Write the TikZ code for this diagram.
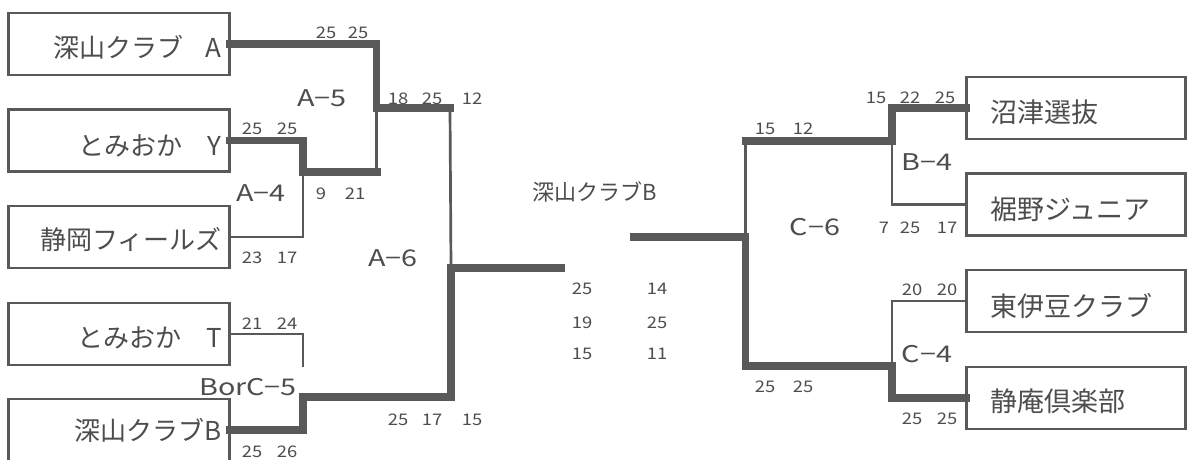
\documentclass[tikz,border=0pt]{standalone}
\usepackage{fontspec}
\setmainfont{Noto Sans CJK JP}
\definecolor{lc}{HTML}{595959}
\definecolor{tc}{HTML}{4d4d4d}
\newcommand{\wideA}[1]{\scalebox{1.25}[1]{#1}}
\newcommand{\wideS}[1]{\scalebox{1.15}[1]{#1}}
\begin{document}
\begin{tikzpicture}[x=1pt,y=-1pt,
  teambox/.style={draw=lc, line width=2.6pt, minimum width=221pt, minimum height=62pt, inner sep=0pt, outer sep=0pt},
  thinl/.style={draw=lc, line width=2.7pt},
  thickl/.style={draw=lc, line width=7.8pt, line cap=rect, line join=miter},
  lname/.style={text=tc, anchor=base east, inner sep=0pt, font=\fontsize{26}{30}\selectfont},
  rname/.style={text=tc, anchor=base west, inner sep=0pt, font=\fontsize{27}{31}\selectfont},
  cname/.style={text=tc, anchor=base, inner sep=0pt, font=\fontsize{22}{26}\selectfont},
  score/.style={text=tc, anchor=base, inner sep=0pt, font=\fontsize{16}{18}\selectfont},
  mlabel/.style={text=tc, anchor=base, inner sep=0pt, font=\fontsize{23}{27}\selectfont}]
\clip (0,0) rectangle (1189,459);
\fill[white] (0,0) rectangle (1189,459);

% team boxes
\node[teambox] (L1) at (119,44) {};
\node[teambox] (L2) at (119,140.5) {};
\node[teambox] (L3) at (119,237) {};
\node[teambox] (L4) at (119,334) {};
\node[teambox] (L5) at (119,430) {};
\node[teambox, minimum width=219pt] (R1) at (1076,108) {};
\node[teambox, minimum width=219pt] (R2) at (1076,204.5) {};
\node[teambox, minimum width=219pt] (R3) at (1076,301) {};
\node[teambox, minimum width=219pt] (R4) at (1076,398) {};

% names
\node[lname] (n1) at (222,57) {深山クラブ\hspace{22pt}A};
\node[lname] (n2) at (222,155.5) {とみおか\hspace{25pt}Y};
\node[lname] (n3) at (222,249.5) {静岡フィールズ};
\node[lname] (n4) at (222,347.5) {とみおか\hspace{25pt}T};
\node[lname] (n5) at (222,440.5) {深山クラブB};
\node[rname] (m1) at (990,122) {沼津選抜};
\node[rname] (m2) at (990,219) {裾野ジュニア};
\node[rname] (m3) at (990,316) {東伊豆クラブ};
\node[rname] (m4) at (990,411) {静庵倶楽部};
\node[cname] (champ) at (595,200) {深山クラブB};

% junction coordinates
\coordinate (a5) at (376.5,108);
\coordinate (a5b) at (376.5,172);
\coordinate (a4) at (303,172);
\coordinate (a4e) at (377,172);
\coordinate (a5e) at (450,108);
\coordinate (a6) at (451,268);
\coordinate (fL) at (561,268);
\coordinate (b5) at (303,397);
\coordinate (b5r) at (451,397);
\coordinate (b5t) at (303,367);
\coordinate (b4) at (892,141);
\coordinate (c6t) at (745.5,141);
\coordinate (c6) at (745.5,237);
\coordinate (c4) at (892,366);
\coordinate (c6b) at (745.5,366);
\coordinate (fR) at (634,237);

% thin connectors (losers)
\draw[thinl] (a5) -- (a5b);
\draw[thinl] (L3.east) -| (a4);
\draw[thinl] (a5e) -- (a6);
\draw[thinl] (L4.east) -| (b5t);
\draw[thinl] (R2.west) -| (b4);
\draw[thinl] (R3.west) -| (c4);
\draw[thinl] (c6t) -- (c6);

% thick connectors (winners)
\draw[thickl] (L1.east) -| (a5) -- (a5e);
\draw[thickl] (L2.east) -| (a4) -- (a4e);
\draw[thickl] (L5.east) -| (b5) -- (b5r) -- (a6) -- (fL);
\draw[thickl] (R1.west) -| (b4) -- (c6t);
\draw[thickl] (R4.west) -| (c4) -- (c6b) -- (c6) -- (fR);

% match labels
\node[mlabel] (A5) at (322,106) {\wideA{A−5}};
\node[mlabel] (A4) at (261,201) {\wideA{A−4}};
\node[mlabel] (A6) at (393,266) {\wideA{A−6}};
\node[mlabel] (BC5) at (248,395) {\wideA{BorC−5}};
\node[mlabel] (B4) at (927,170) {\wideA{B−4}};
\node[mlabel] (C6) at (815,235) {\wideA{C−6}};
\node[mlabel] (C4) at (927,362) {\wideA{C−4}};

% scores
\foreach \x/\y/\t [count=\i] in {
  326/38/25, 358/38/25,
  398/104/18, 432/104/25, 472/104/12,
  252/134/25, 287/134/25,
  321/199/9, 355/199/21,
  252/263/23, 287/263/17,
  252/329/21, 287/329/24,
  252/457/25, 287/457/26,
  398/425/25, 432/425/17, 472/425/15,
  582/294/25, 657/294/14,
  582/328/19, 657/328/25,
  582/359/15, 657/359/11,
  876/103/15, 910/103/22, 945/103/25,
  765/134/15, 803/134/12,
  884/233/7, 910/233/25, 947/233/17,
  912/295/20, 947/295/20,
  765/392/25, 803/392/25,
  912/424/25, 947/424/25}
  \node[score] (s\i) at (\x,\y) {\wideS{\t}};
\end{tikzpicture}
\end{document}
